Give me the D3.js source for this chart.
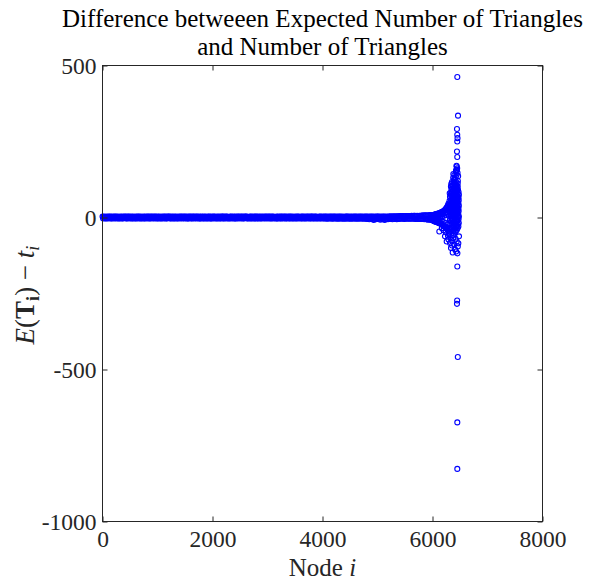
<!DOCTYPE html>
<html><head><meta charset="utf-8">
<script src="https://cdn.jsdelivr.net/npm/d3@7"></script>
<style>body{margin:0;background:#fff}svg{display:block}</style>
</head><body>
<svg id="chart" width="591" height="584"></svg>
<script>
// ---------------- data ----------------
const titleLines = ["Difference betweeen Expected Number of Triangles", "and Number of Triangles"];
const xTicks = [0, 2000, 4000, 6000, 8000];
const xTickLabels = ["0", "2000", "4000", "6000", "8000"];
const yTicks = [500, 0, -500, -1000];
const yTickLabels = ["500", "0", "-500", "-1000"];
const xDomain = [0, 8000];
const yDomain = [-1000, 500];

// flat band: node ids sampled every 10 nodes starting at node 1
const bandStart = 1, bandStep = 10;
const bandValues = [
  3,-3,2,-2,3,-3,1,-3,3,-2,2,-3,3,-1,3,-3,2,-3,3,-2,
  2,-3,3,-2,3,-3,2,-2,3,-3,1,-3,3,-2,2,-3,3,-3,2,-2,
  3,-2,3,-3,2,-3,3,-1,3,-3,2,-2,3,-3,2,-3,3,-2,1,-3,
  3,-3,2,-2,3,-3,3,-2,2,-3,3,-3,1,-2,3,-3,2,-3,3,-2,
  2,-3,3,-2,3,-3,2,-3,3,-1,3,-3,2,-2,3,-3,3,-2,2,-3,
  3,-3,2,-2,3,-3,1,-3,3,-2,2,-3,3,-2,3,-3,2,-3,3,-2,
  3,-2,3,-3,2,-3,3,-2,2,-3,3,-3,2,-2,3,-3,1,-3,3,-2,
  2,-3,3,-2,3,-3,2,-2,3,-3,3,-2,2,-3,3,-3,2,-3,3,-1,
  3,-3,2,-3,3,-2,3,-3,2,-2,3,-3,3,-2,2,-3,3,-3,2,-3,
  3,-2,2,-3,3,-3,2,-2,3,-3,1,-3,3,-2,3,-3,2,-3,3,-3,
  2,-2,3,-3,3,-2,1,-3,3,-3,2,-2,3,-3,2,-3,3,-1,3,-3,
  3,-3,2,-2,3,-3,3,-2,2,-3,1,-3,3,-2,3,-3,2,-2,3,-3,
  2,-3,3,-3,2,-2,3,-3,3,-1,2,-3,3,-2,3,-3,2,-3,3,-2,
  3,-2,3,-3,2,-3,1,-2,3,-3,3,-3,2,-2,3,-3,2,-3,3,-2,
  3,-3,2,-3,3,-2,2,-3,3,-3,2,-1,3,-3,2,-2,3,-3,3,-2,
  2,-3,3,-2,3,-3,2,-3,3,-2,3,-3,2,-2,1,-3,3,-3,2,-3,
  3,-2,2,-3,3,-3,3,-2,2,-3,3,-2,3,-3,2,-3,3,-1,2,-3,
  3,-3,3,-2,2,-3,3,-3,1,-2,3,-3,2,-3,3,-2,3,-3,2,-2,
  2,-3,3,-3,3,-2,2,-3,3,-3,2,-2,3,-3,3,-2,2,-3,3,-3,
  3,-2,3,-3,2,-3,3,-2,3,-3,2,-3,1,-2,3,-3,3,-3,2,-2,
  3,-3,2,-3,3,-2,3,-4,2,-3,3,-3,2,-3,3,-2,3,-4,2,-3,
  3,-3,3,-2,2,-4,3,-3,2,-3,3,-4,3,-2,2,-3,3,-4,2,-3,
  2,-3,3,-4,3,-2,3,-3,2,-4,3,-3,2,-3,3,-4,2,-2,3,-3,
  3,-4,2,-3,3,-3,2,-4,3,-2,3,-3,2,-4,3,-3,2,-3,3,-4,
  3,-5,2,-3,3,-6,2,-4,3,-3,3,-5,2,-8,3,-4,2,-6,3,-3,
  3,-5,3,-4,2,-7,3,-3,2,-6,3,-4,3,-8,2,-5,3,-4,2,-6,
  3,-5,3,-4,4,-3,2,-6,4,-4,3,-5,4,-3,3,-6,4,-4,4,-5,
  4,-3,5,-4,4,-3,5,-4,4,-5,5,-3,5,-4,4,-3,5,-4,5,-4,
  5,-3,6,-4,5,-3,6,-4,6,-5,5,-4,6,-5,5,-4,6,-5,6,-5,
  6,-5,7,-5,6,-6,7,-5,7,-6,6,-7,7,-6,7,-7,8,-7,8,-8
];

// widening tail before the spike: [node, value]
const tailPoints = [
  [6000,8],[6004,-10],[6008,3],[6012,-6],[6016,8],[6020,-11],[6024,0],[6028,9],[6032,-12],[6036,-4],
  [6040,10],[6044,-13],[6048,4],[6052,10],[6056,-14],[6060,-7],[6064,11],[6068,-14],[6072,2],[6076,11],
  [6080,-15],[6084,-8],[6088,12],[6092,-16],[6096,5],[6100,13],[6104,-17],[6108,-3],[6112,13],[6116,-18],
  [6120,7],[6124,14],[6128,-19],[6132,-10],[6136,15],[6140,-20],[6144,1],[6148,16],[6152,-21],[6156,9],
  [6160,17],[6164,-22],[6168,-12],[6172,18],[6176,-24],[6180,4],[6184,19],[6188,-25],[6192,11],[6196,20],
  [6200,-27],[6204,-15],[6208,22],[6212,-29],[6216,6],[6220,24],[6224,-31],[6228,14],[6232,26],[6236,-33],
  [6240,-18],[6244,29],[6248,-35],[6252,8],[6256,32],[6260,-37],[6264,18],[6268,35],[6272,-40],[6276,-22],
  [6280,40],[6284,-43],[6288,12],[6292,46],[6296,-47],[6300,24]
];

// the dense spike near the last nodes: [node, value]
const spikePoints = [
  [6305,-50],[6312,-35],[6308,-20],[6316,-8],[6303,5],[6311,18],[6307,30],[6315,42],[6310,55],[6318,68],[6313,80],
  [6333,-38],[6341,-26],[6336,-13],[6345,-3],[6331,6],[6343,14],[6338,23],[6347,31],[6334,40],[6342,48],
  [6337,57],[6346,66],[6332,75],[6340,84],[6344,93],[6335,102],[6341,110],
  [6353,-33],[6360,-20],[6356,-6],[6362,5],[6351,16],[6358,27],[6354,38],[6361,50],[6355,61],[6359,72],
  [6352,83],[6360,95],[6357,106],[6354,117],
  [6371,-58],[6379,-44],[6374,-31],[6382,-18],[6368,-8],[6377,2],[6373,11],[6381,20],[6369,29],[6378,38],
  [6375,46],[6383,55],[6370,63],[6376,72],[6380,80],[6372,88],[6378,97],[6374,106],[6381,118],[6376,131],[6379,143],
  [6388,-40],[6395,-27],[6390,-14],[6397,-2],[6386,9],[6393,20],[6389,32],[6396,43],[6387,54],[6394,65],
  [6391,76],[6398,87],[6388,98],[6395,110],
  [6406,-49],[6413,-36],[6409,-22],[6416,-10],[6404,0],[6411,9],[6407,18],[6415,27],[6403,36],[6412,44],
  [6408,53],[6414,61],[6405,70],[6410,79],[6416,87],[6407,96],[6412,105],[6409,114],
  [6424,-45],[6431,-32],[6427,-19],[6433,-7],[6422,6],[6429,17],[6425,28],[6432,39],[6423,50],[6430,62],
  [6426,73],[6433,84],[6424,95],[6430,106],[6427,118],
  [6441,-41],[6448,-28],[6444,-15],[6451,-5],[6439,4],[6446,13],[6442,22],[6450,31],[6438,40],[6447,49],
  [6443,58],[6449,67],[6440,76],[6445,85],[6451,94],[6443,103],
  [6456,-35],[6463,-22],[6459,-10],[6465,1],[6455,12],[6462,24],[6458,35],[6464,46],[6456,57],[6461,69],
  [6457,80],[6463,91],[6459,102],
  [6471,-30],[6478,-18],[6474,-6],[6480,3],[6469,12],[6476,21],[6472,30],[6479,39],[6470,48],[6477,57],
  [6473,66],[6480,75],[6474,84],
  [6392,126],[6421,133],[6437,140],[6455,147],[6428,155],[6449,162],[6436,170],[6461,120],[6403,124],
  [6466,136],[6425,150],[6442,158],[6458,112],[6398,140]
];

// scattered circles below the band
const lowerScatter = [
  [6124,-46],[6227,-62],[6258,-79],[6318,-84],[6336,-100],[6367,-115],[6378,-68],[6440,-79],[6482,-62],
  [6300,-55],[6350,-75],[6395,-90],[6420,-70],[6460,-95],[6280,-60],[6240,-48],[6200,-42],[6170,-35],
  [6330,-65],[6410,-105],[6430,-112],[6470,-85],[6355,-92],[6290,-72]
];

// isolated extreme values
const outlierPoints = [
  [6451,462],[6464,335],[6445,291],[6450,272],[6455,261],[6450,250],[6445,217],[6450,199],[6440,168],[6445,157],
  [6451,-161],[6448,-273],[6445,-284],[6460,-459],[6451,-674],[6451,-827],[6453,-118]
];

// ---------------- drawing ----------------
const W = 591, H = 584;
const margin = {left: 102.5, right: 48.5, top: 65.5, bottom: 62.5};
const svg = d3.select("#chart");
const x = d3.scaleLinear().domain(xDomain).range([margin.left, W - margin.right]);
const y = d3.scaleLinear().domain(yDomain).range([H - margin.bottom, margin.top]);

const serif = "'Liberation Serif','Times New Roman',serif";
const axisColor = "#262626";

const bandPoints = bandValues.map((v, i) => [bandStart + i * bandStep, v]);
const allPoints = bandPoints.concat(tailPoints, spikePoints, lowerScatter, outlierPoints)
  .sort((a, b) => a[0] - b[0]);

svg.append("g").selectAll("circle").data(allPoints).join("circle")
  .attr("cx", d => x(d[0])).attr("cy", d => y(d[1])).attr("r", 2.5)
  .attr("fill", "none").attr("stroke", "#0000ff").attr("stroke-width", 1.1);

// box
svg.append("rect").attr("x", x(xDomain[0])).attr("y", y(yDomain[1]))
  .attr("width", x(xDomain[1]) - x(xDomain[0])).attr("height", y(yDomain[0]) - y(yDomain[1]))
  .attr("fill", "none").attr("stroke", axisColor).attr("stroke-width", 1);

function styleAxis(g, showLabels) {
  g.select(".domain").remove();
  g.selectAll(".tick line").attr("stroke", axisColor).attr("stroke-width", 1);
  g.selectAll(".tick text").attr("fill", axisColor).style("font-family", serif).style("font-size", "23.5px");
  if (!showLabels) g.selectAll(".tick text").remove();
}

const xb = svg.append("g").attr("transform", `translate(0,${y(yDomain[0])})`)
  .call(d3.axisBottom(x).tickValues(xTicks).tickFormat((d, i) => xTickLabels[i]).tickSizeInner(-5).tickSizeOuter(0).tickPadding(9));
styleAxis(xb, true);
const xt = svg.append("g").attr("transform", `translate(0,${y(yDomain[1])})`)
  .call(d3.axisTop(x).tickValues(xTicks).tickSizeInner(-5).tickSizeOuter(0));
styleAxis(xt, false);
const yl = svg.append("g").attr("transform", `translate(${x(xDomain[0])},0)`)
  .call(d3.axisLeft(y).tickValues(yTicks).tickFormat((d, i) => yTickLabels[i]).tickSizeInner(-5).tickSizeOuter(0).tickPadding(6));
styleAxis(yl, true);
const yr = svg.append("g").attr("transform", `translate(${x(xDomain[1])},0)`)
  .call(d3.axisRight(y).tickValues(yTicks).tickSizeInner(-5).tickSizeOuter(0));
styleAxis(yr, false);

// title
const cx = (x(xDomain[0]) + x(xDomain[1])) / 2;
svg.append("g").selectAll("text").data(titleLines).join("text")
  .attr("x", cx).attr("y", (d, i) => 27 + i * 28)
  .attr("text-anchor", "middle").attr("fill", "#000")
  .style("font-family", serif).style("font-size", "25px")
  .text(d => d);

// x label: Node i
const xl = svg.append("text").attr("x", cx).attr("y", 576).attr("text-anchor", "middle")
  .attr("fill", axisColor).style("font-family", serif).style("font-size", "25px");
xl.append("tspan").text("Node ");
xl.append("tspan").style("font-style", "italic").text("i");

// y label: E(T_i) − t_i
const ylab = svg.append("text").attr("transform", `translate(34,${295}) rotate(-90)`)
  .attr("text-anchor", "middle").attr("fill", axisColor)
  .style("font-family", serif).style("font-size", "27px");
ylab.append("tspan").style("font-style", "italic").text("E");
ylab.append("tspan").text("(");
ylab.append("tspan").style("font-weight", "bold").text("T");
ylab.append("tspan").style("font-weight", "bold").style("font-size", "18px").attr("dy", 5).text("i");
ylab.append("tspan").attr("dy", -5).text(")");
ylab.append("tspan").text(" \u2212 ");
ylab.append("tspan").style("font-style", "italic").text("t");
ylab.append("tspan").style("font-style", "italic").style("font-size", "18px").attr("dy", 5).text("i");
</script>
</body></html>
